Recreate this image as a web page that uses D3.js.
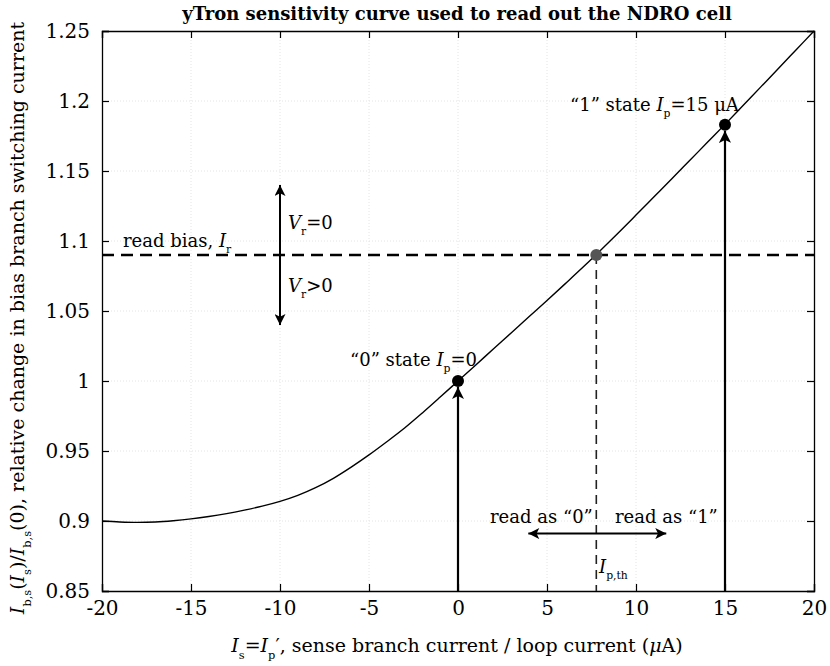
<!DOCTYPE html>
<html><head><meta charset="utf-8">
<script src="https://cdn.jsdelivr.net/npm/d3@7"></script>
<style>
body{margin:0;background:#fff;}
text{font-family:"DejaVu Serif","Liberation Serif",serif;fill:#000;}
</style></head>
<body><svg id="c" width="830" height="666"></svg>
<script>
// ---- data ----
const curveX = [-20,-19,-18,-17,-16,-15,-14,-13,-12,-11,-10,-9,-8,-7,-6,-5,-4,-3,-2,-1,0,1,2,3,4,5,6,7,8,9,10,11,12,13,14,15,16,17,18,19,20];
const curveY = [0.9000,0.8993,0.8990,0.8993,0.9002,0.9015,0.9032,0.9053,0.9078,0.9106,0.9140,0.9183,0.9238,0.9305,0.9385,0.9472,0.9566,0.9664,0.9772,0.9885,1.0000,1.0115,1.0230,1.0345,1.0460,1.0575,1.0692,1.0810,1.0932,1.1057,1.1185,1.1314,1.1443,1.1573,1.1703,1.1833,1.1966,1.2099,1.2232,1.2366,1.2500];
const xTicks = [-20,-15,-10,-5,0,5,10,15,20];
const yTicks = [0.85,0.9,0.95,1,1.05,1.1,1.15,1.2,1.25];
const yTickLabels = ["0.85","0.9","0.95","1","1.05","1.1","1.15","1.2","1.25"];
const readBias = 1.09;
const ipTh = 7.77;
const states = [{x:0,y:1.0},{x:15,y:1.183}];
const vrArrow = {x:-10, y0:1.04, y1:1.14};
const readArrow = {y:0.891, x0:3.95, x1:11.7};

// ---- layout ----
const svg = d3.select("#c");
const L=102,R=814,T=31,B=591;
const x = d3.scaleLinear().domain([-20,20]).range([L,R]);
const y = d3.scaleLinear().domain([0.85,1.25]).range([B,T]);

const defs = svg.append("defs");
defs.append("marker").attr("id","ah").attr("viewBox","0 0 10 10").attr("refX",10).attr("refY",5)
  .attr("markerWidth",6.5).attr("markerHeight",5.5).attr("markerUnits","strokeWidth").attr("orient","auto-start-reverse")
  .append("path").attr("d","M0,0 L10,5 L0,10 L2.5,5 Z").attr("fill","#000");

// grid
const g = svg.append("g");
g.selectAll(".gx").data(xTicks.slice(1,-1)).join("line").attr("x1",d=>x(d)).attr("x2",d=>x(d)).attr("y1",T).attr("y2",B)
  .attr("stroke","#e4e4e4").attr("stroke-width",1).attr("stroke-dasharray","1,2");
g.selectAll(".gy").data(yTicks.slice(1,-1)).join("line").attr("y1",d=>y(d)).attr("y2",d=>y(d)).attr("x1",L).attr("x2",R)
  .attr("stroke","#e4e4e4").attr("stroke-width",1).attr("stroke-dasharray","1,2");

// axes
const fs = 20;
const ax = svg.append("g").attr("transform",`translate(0,${B})`).call(d3.axisBottom(x).tickValues(xTicks).tickSize(-7).tickPadding(10).tickFormat(d=>d));
const axT = svg.append("g").attr("transform",`translate(0,${T})`).call(d3.axisTop(x).tickValues(xTicks).tickSize(-7).tickFormat(""));
const ay = svg.append("g").attr("transform",`translate(${L},0)`).call(d3.axisLeft(y).tickValues(yTicks).tickSize(-7).tickPadding(12).tickFormat((d,i)=>yTickLabels[i]));
const ayR = svg.append("g").attr("transform",`translate(${R},0)`).call(d3.axisRight(y).tickValues(yTicks).tickSize(-7).tickFormat(""));
[ax,axT,ay,ayR].forEach(a=>{a.select(".domain").attr("stroke","#000").attr("stroke-width",1.3);
  a.selectAll(".tick line").attr("stroke","#000").attr("stroke-width",1.2);
  a.selectAll("text").attr("font-family","DejaVu Serif").attr("font-size",fs).attr("fill","#000");});
ax.selectAll("text").attr("dy","0.71em");

// curve
const line = d3.line().x((d,i)=>x(curveX[i])).y(d=>y(d)).curve(d3.curveCatmullRom);
svg.append("path").datum(curveY).attr("d",line).attr("fill","none").attr("stroke","#000").attr("stroke-width",1.4);

// read bias dashed
svg.append("line").attr("x1",x(-20)).attr("x2",x(20)).attr("y1",y(readBias)).attr("y2",y(readBias))
  .attr("stroke","#000").attr("stroke-width",2.4).attr("stroke-dasharray","12,7");
// threshold vertical dashed
svg.append("line").attr("x1",x(ipTh)).attr("x2",x(ipTh)).attr("y1",y(readBias)).attr("y2",y(0.85))
  .attr("stroke","#222").attr("stroke-width",1.6).attr("stroke-dasharray","9,6");

// state arrows
svg.selectAll(".sa").data(states).join("line").attr("x1",d=>x(d.x)).attr("x2",d=>x(d.x)).attr("y1",y(0.85)).attr("y2",d=>y(d.y)+6)
  .attr("stroke","#000").attr("stroke-width",2.2).attr("marker-end","url(#ah)");
// Vr arrow
svg.append("line").attr("x1",x(vrArrow.x)).attr("x2",x(vrArrow.x)).attr("y1",y(vrArrow.y0)).attr("y2",y(vrArrow.y1))
  .attr("stroke","#000").attr("stroke-width",2).attr("marker-start","url(#ah)").attr("marker-end","url(#ah)");
// read arrow
svg.append("line").attr("x1",x(readArrow.x0)).attr("x2",x(readArrow.x1)).attr("y1",y(readArrow.y)).attr("y2",y(readArrow.y))
  .attr("stroke","#000").attr("stroke-width",2).attr("marker-start","url(#ah)").attr("marker-end","url(#ah)");

// dots
svg.selectAll(".dt").data(states).join("circle").attr("cx",d=>x(d.x)).attr("cy",d=>y(d.y)).attr("r",6).attr("fill","#000");
svg.append("circle").attr("cx",x(ipTh)).attr("cy",y(readBias)).attr("r",6).attr("fill","#555");

// rich text helper: parts [text, style] style: n normal, i italic, s subscript, u back up
function rich(sel, px, py, parts, size, anchor){
  const t = sel.append("text").attr("x",px).attr("y",py).attr("font-size",size).attr("text-anchor",anchor||"start");
  parts.forEach(p=>{
    const ts = t.append("tspan").text(p[0]);
    if(p[1].includes("i")) ts.attr("font-style","italic");
    if(p[1].includes("s")) ts.attr("font-size",size*0.6).attr("dy",size*0.35);
    if(p[1].includes("u")) ts.attr("dy",-size*0.35);
  });
  return t;
}
const as = 18;
rich(svg,123,247,[["read bias, ","n"],["I","i"],["r","s"]],as);
rich(svg,288,229,[["V","i"],["r","s"],["=0","u"]],as);
rich(svg,288,292,[["V","i"],["r","s"],[">0","u"]],as);
rich(svg,350,366,[["“0” state ","n"],["I","i"],["p","s"],["=0","u"]],as);
rich(svg,570,111,[["“1” state ","n"],["I","i"],["p","s"],["=15 μA","u"]],as);
svg.append("text").attr("x",490).attr("y",523).attr("font-size",as).text("read as “0”");
svg.append("text").attr("x",615).attr("y",523).attr("font-size",as).text("read as “1”");
rich(svg,599,573,[["I","i"],["p,th","s"]],as);

// title
svg.append("text").attr("x",457).attr("y",20).attr("text-anchor","middle").attr("font-family","Liberation Serif")
  .attr("font-weight","bold").attr("font-size",18).text("yTron sensitivity curve used to read out the NDRO cell");

// x label
rich(svg,457,652,[["I","i"],["s","s"],["=","u"],["I","i"],["p","s"],["′","u"],[", sense branch current / loop current (","n"],["μ","i"],["A)","n"]],19,"middle");
// y label
const yl = svg.append("g").attr("transform","translate(24,318) rotate(-90)");
rich(yl,0,0,[["I","i"],["b,s","s"],["(","u"],["I","i"],["s","s"],[")/","u"],["I","i"],["b,s","s"],["(0), relative change in bias branch switching current","u"]],19,"middle");
</script></body></html>
